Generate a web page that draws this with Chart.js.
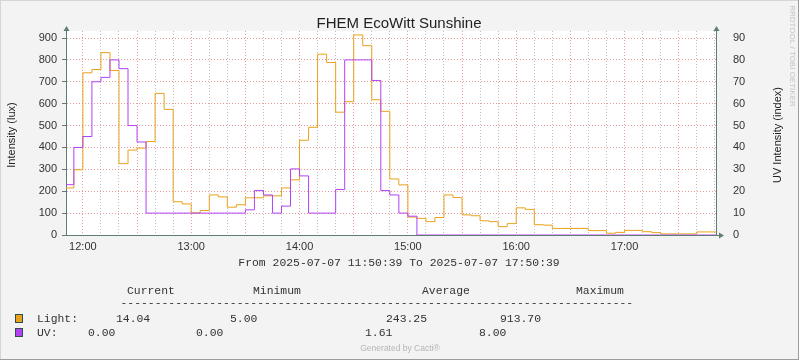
<!DOCTYPE html>
<html>
<head>
<meta charset="utf-8">
<script src="https://cdn.jsdelivr.net/npm/chart.js@4.4.1/dist/chart.umd.min.js"></script>
<style>
html,body{margin:0;padding:0;background:#f3f3f3;}
canvas{display:block;}
</style>
</head>
<body>
<canvas id="chart" width="799" height="360"></canvas>
<script>
// ─── Data (5-minute samples, first sample starts 11:50) ──────────────────────
const STEP_MIN = 5;
const VIEW_START = 39 / 60;          // 11:50:39, minutes after 11:50
const VIEW_END = 360 + 39 / 60;      // 17:50:39
const HOUR_LABELS = ['12:00', '13:00', '14:00', '15:00', '16:00', '17:00'];

// Light, lux
const LIGHT = [
  215, 298, 741, 756, 833, 752, 326, 388, 397, 427, 647, 574, 152, 142, 101, 112, 183, 174,
  127, 138, 170, 170, 179, 179, 215, 252,
  433, 492, 826, 788, 561, 609, 914, 865, 618, 565,
  256, 229, 82, 76, 61, 80, 183, 171, 92, 88, 65, 61, 38, 52, 124, 117, 47, 45,
  30, 30, 30, 30, 20, 20, 8, 12, 21, 21, 15, 11, 5, 5, 5, 5, 14, 14, 14
];
// UV, in right axis units
const UV = [
  23, 40, 45, 70, 72, 80, 76, 50, 42.5,
  10, 10, 10, 10, 10, 10, 10, 10, 10, 10, 10,
  11.5, 20.3, 18.3, 10, 13.2, 30.2, 27, 10, 10, 10, 20.8, 80, 80, 80, 70.6, 20.3, 18.3, 10, 8.6,
  0, 0, 0, 0, 0, 0, 0, 0, 0, 0, 0, 0, 0, 0, 0, 0, 0,
  0, 0, 0, 0, 0, 0, 0, 0, 0, 0, 0, 0, 0, 0, 0, 0, 0
];

const LEFT_TICKS = [0, 100, 200, 300, 400, 500, 600, 700, 800, 900];
const RIGHT_TICKS = [0, 10, 20, 30, 40, 50, 60, 70, 80, 90];

const TITLE = 'FHEM EcoWitt Sunshine';
const PERIOD = 'From 2025-07-07 11:50:39 To 2025-07-07 17:50:39';
const STAT_HEAD = ['Current', 'Minimum', 'Average', 'Maximum'];
const LIGHT_STATS = ['14.04', '5.00', '243.25', '913.70'];
const UV_STATS = ['0.00', '0.00', '1.61', '8.00'];

// ─── Style ───────────────────────────────────────────────────────────────────
const C_LIGHT = '#e9a21b';
const C_UV = '#b342f5';
const AXIS = '#5f7d75';
const GRID_MAJOR = 'rgba(226,120,120,0.75)';
const GRID_MINOR = 'rgba(170,170,170,0.75)';
const SANS = "'Liberation Sans', Arial, sans-serif";
const MONO = "'Liberation Mono', 'Courier New', monospace";

const toPoints = arr => {
  const pts = arr.map((v, i) => ({ x: i * STEP_MIN, y: v }));
  pts.push({ x: VIEW_END, y: arr[arr.length - 1] });
  return pts;
};

// ─── Decorations: background, arrows, titles, legend table ───────────────────
const decor = {
  id: 'decor',
  beforeDraw(chart) {
    const { ctx, chartArea: a } = chart;
    ctx.save();
    ctx.fillStyle = '#f3f3f3';
    ctx.fillRect(0, 0, 799, 360);
    ctx.fillStyle = '#ffffff';
    ctx.fillRect(a.left, a.top, a.right - a.left, a.bottom - a.top);
    ctx.restore();
  },
  afterDraw(chart) {
    const { ctx, chartArea: a } = chart;
    ctx.save();
    // frame
    ctx.fillStyle = '#d6d6d6';
    ctx.fillRect(0, 0, 799, 1); ctx.fillRect(0, 0, 1, 360);
    ctx.fillStyle = '#9c9c9c';
    ctx.fillRect(0, 359, 799, 1); ctx.fillRect(798, 0, 1, 360);

    // arrows
    ctx.fillStyle = AXIS; ctx.strokeStyle = AXIS; ctx.lineWidth = 1;
    const up = (x, y) => { ctx.beginPath(); ctx.moveTo(x - 3, y + 5); ctx.lineTo(x + 3, y + 5); ctx.lineTo(x, y); ctx.closePath(); ctx.fill(); };
    const lx = Math.round(a.left) + 0.5, rx = Math.round(a.right) + 0.5, by = Math.round(a.bottom) + 0.5;
    ctx.beginPath(); ctx.moveTo(lx, a.top); ctx.lineTo(lx, a.top - 2); ctx.stroke();
    ctx.beginPath(); ctx.moveTo(rx, a.top); ctx.lineTo(rx, a.top - 2); ctx.stroke();
    up(lx, a.top - 5); up(rx, a.top - 5);
    ctx.beginPath(); ctx.moveTo(a.right, by); ctx.lineTo(a.right + 3, by); ctx.stroke();
    ctx.beginPath(); ctx.moveTo(a.right + 8, by); ctx.lineTo(a.right + 3, by - 3); ctx.lineTo(a.right + 3, by + 3); ctx.closePath(); ctx.fill();

    // title
    ctx.fillStyle = '#222';
    ctx.font = `15px ${SANS}`;
    ctx.textAlign = 'center'; ctx.textBaseline = 'alphabetic';
    ctx.fillText(TITLE, 399, 28);

    // axis titles
    ctx.font = `11px ${SANS}`;
    ctx.textBaseline = 'middle';
    ctx.fillStyle = '#222';
    ctx.save(); ctx.translate(11.5, 135); ctx.rotate(-Math.PI / 2); ctx.fillText('Intensity (lux)', 0, 0); ctx.restore();
    ctx.save(); ctx.translate(778, 135); ctx.rotate(-Math.PI / 2); ctx.fillText('UV Intensity (index)', 0, 0); ctx.restore();

    // watermark
    ctx.fillStyle = '#c4c4c4';
    ctx.font = `8px ${SANS}`;
    ctx.save(); ctx.translate(792, 56); ctx.rotate(Math.PI / 2); ctx.fillText('RRDTOOL / TOBI OETIKER', 0, 0); ctx.restore();

    // legend table
    ctx.fillStyle = '#333';
    ctx.font = `11.4px ${MONO}`;
    ctx.textAlign = 'center';
    ctx.fillText(PERIOD, 399, 263);
    ctx.textAlign = 'left';
    [127, 253, 422, 576].forEach((x, i) => ctx.fillText(STAT_HEAD[i], x, 291));
    ctx.fillText('-'.repeat(75), 120.5, 303);

    const rows = [
      { y: 319, color: C_LIGHT, name: 'Light:', stats: LIGHT_STATS, xs: [116, 230, 386, 500] },
      { y: 333, color: C_UV, name: 'UV:', stats: UV_STATS, xs: [88, 196, 365, 479] },
    ];
    rows.forEach(r => {
      ctx.fillStyle = r.color;
      ctx.fillRect(15, r.y - 5, 8, 9);
      ctx.strokeStyle = '#2f4f4f';
      ctx.strokeRect(15.5, r.y - 4.5, 7, 8);
      ctx.fillStyle = '#333';
      ctx.fillText(r.name, 37, r.y);
      r.stats.forEach((s, i) => ctx.fillText(s, r.xs[i], r.y));
    });

    ctx.fillStyle = '#b4b4b4';
    ctx.font = `8.5px ${SANS}`;
    ctx.textAlign = 'center';
    ctx.fillText('Generated by Cacti®', 400, 349);
    ctx.restore();
  }
};

// ─── Chart ───────────────────────────────────────────────────────────────────
Chart.defaults.font.family = SANS;
Chart.defaults.color = '#333';

new Chart(document.getElementById('chart').getContext('2d'), {
  type: 'line',
  data: {
    datasets: [
      { label: 'Light', data: toPoints(LIGHT), yAxisID: 'y', borderColor: C_LIGHT, borderWidth: 1,
        pointRadius: 0, stepped: true, fill: false, order: 2 },
      { label: 'UV', data: toPoints(UV), yAxisID: 'y1', borderColor: C_UV, borderWidth: 1,
        pointRadius: 0, stepped: true, fill: false, order: 1 },
    ]
  },
  options: {
    responsive: false,
    animation: false,
    events: [],
    devicePixelRatio: 1,
    layout: { padding: { left: 0, right: 0, top: 31, bottom: 0 } },
    plugins: { legend: { display: false }, tooltip: { enabled: false }, title: { display: false } },
    scales: {
      x: {
        type: 'linear', min: VIEW_START, max: VIEW_END,
        afterBuildTicks: s => { s.ticks = []; for (let m = 10; m <= 360; m += 10) s.ticks.push({ value: m }); },
        afterFit: s => { s.height = 125; },
        ticks: {
          autoSkip: false, maxRotation: 0, padding: 1, font: { size: 11 },
          callback: v => ((v - 10) % 60 === 0 ? HOUR_LABELS[(v - 10) / 60] : '')
        },
        grid: {
          color: c => ((c.tick.value - 10) % 30 === 0 ? GRID_MAJOR : GRID_MINOR),
          tickLength: 4, tickColor: 'rgba(0,0,0,0)'
        },
        border: { color: AXIS, dash: [1, 2] }
      },
      y: {
        position: 'left', min: 0, max: 932,
        afterBuildTicks: s => { s.ticks = []; for (let v = 0; v <= 900; v += 50) s.ticks.push({ value: v }); },
        afterFit: s => { s.width = 66; },
        ticks: { padding: 5, font: { size: 11 }, callback: v => (LEFT_TICKS.includes(v) ? String(v) : '') },
        grid: {
          color: c => (c.tick.value % 100 === 0 ? GRID_MAJOR : GRID_MINOR),
          tickLength: 4,
          tickColor: c => (c.tick && c.tick.value % 100 === 0 ? AXIS : 'rgba(0,0,0,0)')
        },
        border: { color: AXIS, dash: [1, 2] }
      },
      y1: {
        position: 'right', min: 0, max: 93.2,
        afterBuildTicks: s => { s.ticks = RIGHT_TICKS.map(v => ({ value: v })); },
        afterFit: s => { s.width = 83; },
        ticks: { padding: 13, font: { size: 11 } },
        grid: { drawOnChartArea: false, tickLength: 4, tickColor: 'rgba(0,0,0,0)' },
        border: { color: AXIS }
      }
    }
  },
  plugins: [decor]
});
</script>
</body>
</html>
